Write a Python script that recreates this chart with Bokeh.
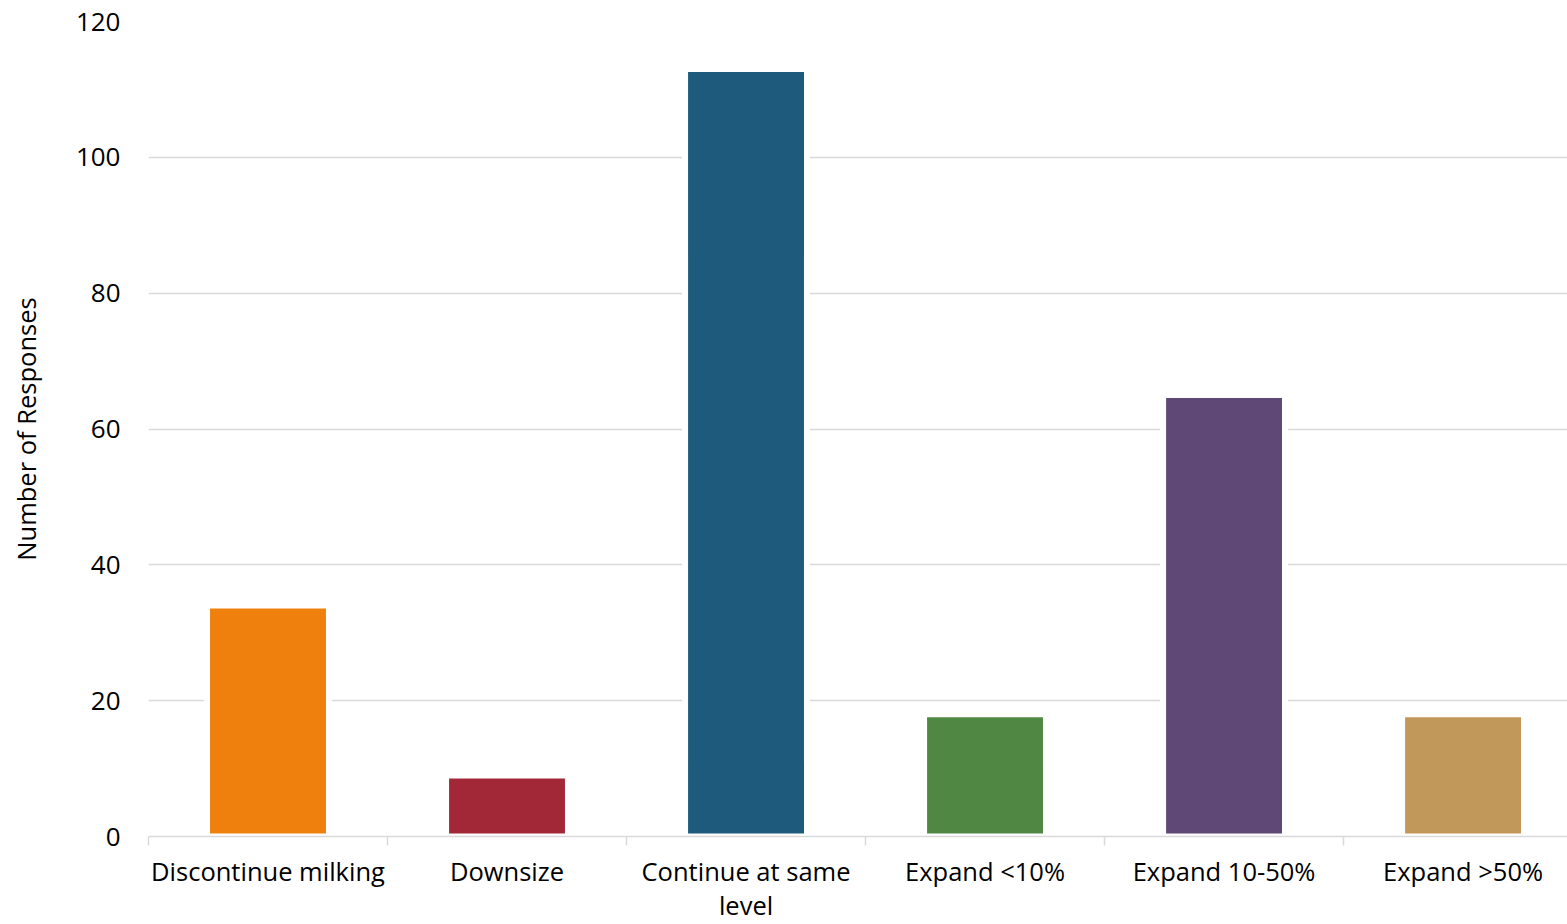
import numpy as np
from bokeh.plotting import figure
from bokeh.models import Range1d, FixedTicker, ColumnDataSource
from bokeh.embed import file_html
from bokeh.resources import INLINE

categories = ["Discontinue milking", "Downsize", "Continue at same level",
              "Expand <10%", "Expand 10-50%", "Expand >50%"]
label_text = ["Discontinue milking", "Downsize", "Continue at same\nlevel",
              "Expand <10%", "Expand 10-50%", "Expand >50%"]
responses = [34, 9, 113, 18, 65, 18]
colors = ["#EF800D", "#A22837", "#1E5A7B", "#508843", "#604876", "#C1975A"]
y_ticks = [0, 20, 40, 60, 80, 100, 120]

FONT = "Open Sans"

n = len(categories)
xs = np.arange(n)
src = ColumnDataSource(dict(x=xs, top=responses, color=colors, cat=categories))

# the reference's plot area runs slightly past the right edge of the image
p = figure(width=1567, height=924, output_backend="svg", toolbar_location=None,
           x_range=Range1d(-0.5, n - 0.563), y_range=Range1d(0, 120),
           min_border_left=148, min_border_right=0, min_border_top=21,
           min_border_bottom=88)
p.outline_line_color = None
p.background_fill_color = "white"
p.border_fill_color = "white"

p.vbar(x="x", top="top", width=0.51, bottom=0, source=src,
       fill_color="color", line_color="white", line_width=6)

# y axis
p.yaxis.ticker = FixedTicker(ticks=y_ticks)
p.yaxis.axis_line_color = None
p.yaxis.major_tick_line_color = None
p.yaxis.minor_tick_line_color = None
p.yaxis.major_tick_out = 0
p.yaxis.major_label_standoff = 28
p.yaxis.major_label_text_font = FONT
p.yaxis.major_label_text_font_size = "26px"
p.yaxis.major_label_text_color = "black"
p.yaxis.axis_label = "Number of Responses"
p.yaxis.axis_label_text_font = FONT
p.yaxis.axis_label_text_font_size = "25.5px"
p.yaxis.axis_label_text_font_style = "normal"
p.yaxis.axis_label_text_color = "black"
p.yaxis.axis_label_standoff = 30

# x axis
boundaries = list(np.arange(n + 1) - 0.5)
p.xaxis.ticker = FixedTicker(ticks=list(xs), minor_ticks=boundaries)
p.xaxis.major_label_overrides = {int(i): t for i, t in zip(xs, label_text)}
p.xaxis.axis_line_color = "#d9d9d9"
p.xaxis.axis_line_width = 1.5
p.xaxis.major_tick_line_color = None
p.xaxis.major_tick_out = 0
p.xaxis.minor_tick_line_color = "#d9d9d9"
p.xaxis.minor_tick_line_width = 1.5
p.xaxis.minor_tick_out = 9
p.xaxis.minor_tick_in = 0
p.xaxis.major_label_standoff = 8
p.xaxis.major_label_text_font = FONT
p.xaxis.major_label_text_font_size = "25.5px"
p.xaxis.major_label_text_color = "black"
p.xaxis.major_label_text_line_height = 1.0

p.xgrid.grid_line_color = None
p.ygrid.ticker = FixedTicker(ticks=y_ticks)
p.ygrid.grid_line_color = "#d9d9d9"
p.ygrid.grid_line_width = 1.5

open("out.html", "w").write(file_html(p, INLINE))
